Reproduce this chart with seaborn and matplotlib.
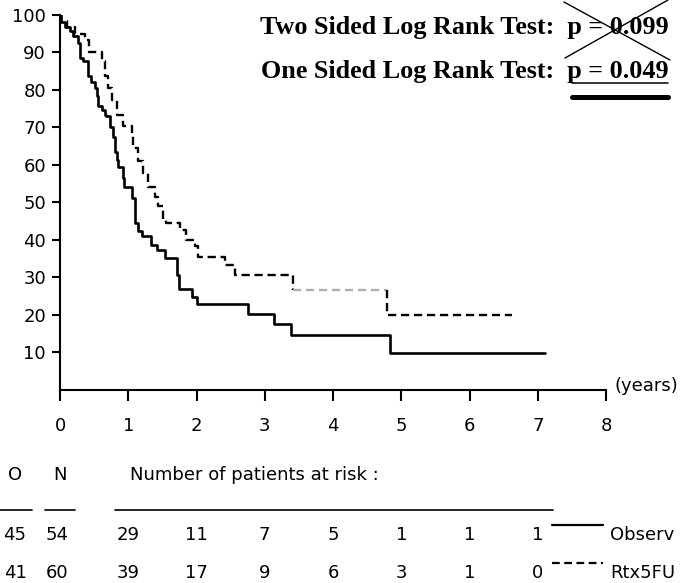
import numpy as np
import pandas as pd
import matplotlib
matplotlib.use("Agg")
import matplotlib.pyplot as plt
import matplotlib.transforms as mtransforms
from matplotlib.lines import Line2D
import seaborn as sns

# =========
# DADOS
# =========

# Observ (linha cheia): tempo em anos e sobrevida (%)
obs_t = [0.00, 0.01, 0.07, 0.14, 0.19, 0.26, 0.29, 0.34, 0.41, 0.46, 0.51, 0.54,
         0.56, 0.61, 0.66, 0.68, 0.73, 0.77, 0.81, 0.83, 0.85, 0.92, 0.94, 1.06,
         1.10, 1.15, 1.20, 1.34, 1.42, 1.54, 1.71, 1.74, 1.94, 2.00, 2.76, 3.13,
         3.38, 4.84, 7.10]
obs_s = [100, 98.1, 96.8, 95.8, 94.4, 92.6, 88.5, 87.6, 83.6, 82.0, 80.6, 78.3,
         75.6, 74.5, 73.4, 72.9, 70.0, 67.5, 63.5, 61.4, 59.3, 56.5, 54.2, 51.1,
         44.4, 42.2, 40.9, 38.6, 37.3, 35.1, 30.6, 26.8, 24.8, 22.9, 20.2, 17.5,
         14.6, 9.7, 9.7]

# Rtx5FU (linha tracejada)
rtx_t = [0.00, 0.02, 0.10, 0.22, 0.36, 0.42, 0.61, 0.66, 0.71, 0.76, 0.83, 0.93,
         1.05, 1.07, 1.15, 1.22, 1.29, 1.39, 1.44, 1.51, 1.56, 1.76, 1.85, 1.98,
         2.02, 2.42, 2.56, 3.41, 4.79, 6.62]
rtx_s = [100, 98.3, 96.7, 95.0, 93.3, 90.0, 87.6, 83.6, 80.5, 77.4, 73.4, 70.3,
         68.0, 64.5, 61.0, 57.8, 54.2, 51.5, 48.9, 45.3, 44.4, 42.6, 40.0, 38.2,
         35.5, 33.3, 30.6, 26.6, 19.9, 19.9]

# tabela de pacientes em risco
risk_years = [1, 2, 3, 4, 5, 6, 7]
risk_obs = [29, 11, 7, 5, 1, 1, 1]
risk_rtx = [39, 17, 9, 6, 3, 1, 0]
grupos = ["Observ", "Rtx5FU"]
col_o = [45, 41]
col_n = [54, 60]

x_ticks = list(range(0, 9))
y_ticks = list(range(10, 101, 10))

# =========
# FIGURA
# =========

W, H = 680, 583
sns.set_theme(style="ticks")
plt.rcParams["font.family"] = ["DejaVu Sans"]
plt.rcParams["text.color"] = "black"

fig = plt.figure(figsize=(W / 100, H / 100), dpi=100)
fig.patch.set_facecolor("white")
ax = fig.add_axes([60 / W, 1 - 389.5 / H, (606 - 60) / W, (389.5 - 15) / H])
ax.set_facecolor("white")

dash = (0, (3.5, 2.0))

df_obs = pd.DataFrame({"t": obs_t, "s": obs_s})
sns.lineplot(data=df_obs, x="t", y="s", ax=ax, drawstyle="steps-post",
             color="black", linewidth=1.9, estimator=None, sort=False)

# parte cinza do tracejado (trecho claro no original)
i = rtx_t.index(3.41)
df_a = pd.DataFrame({"t": rtx_t[:i + 1], "s": rtx_s[:i + 1]})
df_b = pd.DataFrame({"t": rtx_t[i:i + 2], "s": [rtx_s[i], rtx_s[i]]})
df_c = pd.DataFrame({"t": [rtx_t[i + 1]] + rtx_t[i + 1:],
                     "s": [rtx_s[i]] + rtx_s[i + 1:]})
for d, c in [(df_a, "black"), (df_b, "#b0b0b0"), (df_c, "black")]:
    sns.lineplot(data=d, x="t", y="s", ax=ax, drawstyle="steps-post",
                 color=c, linewidth=1.7, estimator=None, sort=False)
    ax.lines[-1].set_linestyle(dash)

ax.set_xlim(0, 8)
ax.set_ylim(0, 100)
ax.set_xticks(x_ticks)
ax.set_yticks(y_ticks)
ax.set_xlabel("")
ax.set_ylabel("")
for s in ["top", "right"]:
    ax.spines[s].set_visible(False)
for s in ["left", "bottom"]:
    ax.spines[s].set_linewidth(1.5)
    ax.spines[s].set_color("black")
ax.tick_params(axis="x", direction="out", length=8, width=1.5, pad=12,
               labelsize=13, colors="black", bottom=True)
ax.tick_params(axis="y", direction="out", length=6, width=1.5, pad=4,
               labelsize=13, colors="black", left=True)

fig.text(615 / W, 1 - 386 / H, "(years)", fontsize=13, ha="left", va="center")

# textos do teste log-rank
serif = dict(family=["Liberation Serif", "DejaVu Serif"], fontweight="bold",
             fontsize=18.8, ha="right", va="baseline", color="black")
fig.text(669 / W, 1 - 34 / H, "Two Sided Log Rank Test:  p = 0.099", **serif)
fig.text(669 / W, 1 - 78 / H, "One Sided Log Rank Test:  p = 0.049", **serif)


def linha_px(x0, y0, x1, y1, lw, color="black", ls="-"):
    fig.add_artist(Line2D([x0 / W, x1 / W], [1 - y0 / H, 1 - y1 / H],
                          transform=fig.transFigure, color=color,
                          linewidth=lw, linestyle=ls))


linha_px(564, 2, 670, 60, 1.0)
linha_px(565, 58, 668, 0, 1.0)
linha_px(572, 83, 668, 83, 1.1)
linha_px(572, 96.5, 668, 96.5, 3.6)

# tabela de risco
fig.text(15 / W, 1 - 475 / H, "O", fontsize=13, ha="center", va="center")
fig.text(60 / W, 1 - 475 / H, "N", fontsize=13, ha="center", va="center")
fig.text(130 / W, 1 - 475 / H, "Number of patients at risk :", fontsize=13,
         ha="left", va="center")
linha_px(0, 510, 32, 510, 1.2)
linha_px(45, 510, 75, 510, 1.2)
linha_px(115, 510, 553, 510, 1.2)

trans = mtransforms.blended_transform_factory(ax.transData, fig.transFigure)
linhas_y = [535, 573]
for k, valores in enumerate([risk_obs, risk_rtx]):
    yf = 1 - linhas_y[k] / H
    fig.text(15 / W, yf, str(col_o[k]), fontsize=13, ha="center", va="center")
    fig.text(57 / W, yf, str(col_n[k]), fontsize=13, ha="center", va="center")
    for ano, v in zip(risk_years, valores):
        ax.text(ano, yf, str(v), transform=trans, fontsize=13, ha="center",
                va="center", clip_on=False)
    fig.text(610 / W, yf, grupos[k], fontsize=13, ha="left", va="center")

linha_px(552, 525, 603, 525, 1.6)
linha_px(552, 563, 603, 563, 1.6, ls=(0, (3.5, 2.0)))

fig.savefig("out.png", dpi=100, facecolor="white")
